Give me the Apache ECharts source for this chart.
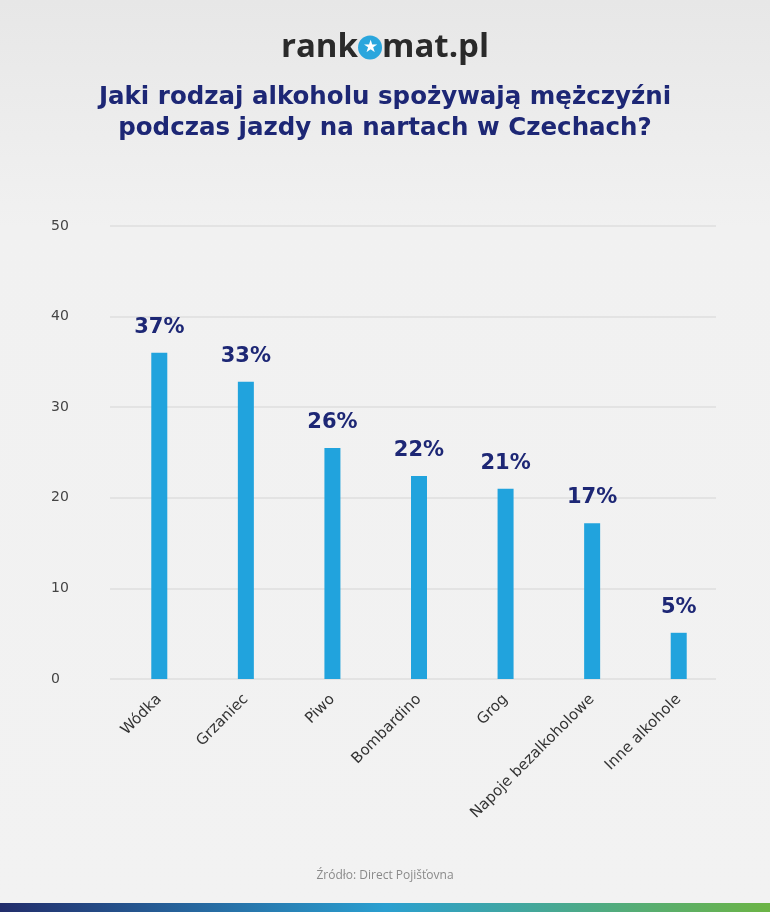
<!DOCTYPE html>
<html><head><meta charset="utf-8">
<script src="https://cdn.jsdelivr.net/npm/echarts@6/dist/echarts.min.js"></script>
<style>html,body{margin:0;padding:0;width:770px;height:912px;overflow:hidden}#c{width:770px;height:912px}</style>
</head><body><div id="c"></div>
<script>
const categories = ['Wódka', 'Grzaniec', 'Piwo', 'Bombardino', 'Grog', 'Napoje bezalkoholowe', 'Inne alkohole'];
const values = [36, 32.8, 25.5, 22.4, 21, 17.2, 5.1];
const valueLabels = ['37%', '33%', '26%', '22%', '21%', '17%', '5%'];
const yMin = 0, yMax = 50, yStep = 10;
const titleLines = ['Jaki rodzaj alkoholu spożywają mężczyźni', 'podczas jazdy na nartach w Czechach?'];
const sourceText = 'Źródło: Direct Pojišťovna';

const FONT = '"DejaVu Sans", sans-serif';
const chart = echarts.init(document.getElementById('c'), null, {renderer: 'canvas'});
chart.setOption({
  backgroundColor: {type: 'linear', x: 0, y: 0, x2: 0, y2: 1, colorStops: [
    {offset: 0, color: '#e7e7e7'}, {offset: 0.25, color: '#f1f1f1'}, {offset: 1, color: '#f2f2f2'}]},
  animation: false,
  grid: [
    {left: 110, right: 54, top: 226, bottom: 233},
    {left: 116, right: 48, top: 226, bottom: 233}
  ],
  xAxis: [
    {type: 'category', gridIndex: 0, data: categories, show: false},
    {type: 'category', gridIndex: 1, data: categories,
     axisLine: {show: false}, axisTick: {show: false},
     axisLabel: {rotate: 45, margin: 18, color: '#333', fontSize: 15, fontFamily: FONT, interval: 0}}
  ],
  yAxis: [
    {type: 'value', gridIndex: 0, min: yMin, max: yMax, interval: yStep,
     axisLine: {show: false}, axisTick: {show: false},
     axisLabel: {align: 'left', margin: 59, color: '#444', fontSize: 14, fontFamily: FONT},
     splitLine: {lineStyle: {color: '#dedede', width: 1.5}}},
    {type: 'value', gridIndex: 1, min: yMin, max: yMax, interval: yStep, show: false, splitLine: {show: false}}
  ],
  series: [{
    type: 'bar', xAxisIndex: 1, yAxisIndex: 1, data: values, barWidth: 16,
    itemStyle: {color: '#21a3dd'},
    label: {show: true, position: 'top', distance: 15, formatter: p => valueLabels[p.dataIndex],
      color: '#1d2775', fontSize: 21, fontWeight: 'bold', fontFamily: FONT}
  }],
  graphic: [
    {type: 'text', left: 'center', top: 31, style: {
      text: '{a|rank}{s|★}{a|mat.pl}',
      rich: {
        a: {fontSize: 33, fontWeight: 'bold', fontFamily: '"Open Sans", sans-serif', fill: '#2a2a2a'},
        s: {fontSize: 17, fill: '#fff', backgroundColor: '#2aa6dd', width: 24, height: 24, borderRadius: 12, align: 'center', verticalAlign: 'middle', lineHeight: 24}
      }}},
    {type: 'text', left: 'center', top: 85, style: {
      text: titleLines[0], fill: '#1d2775', fontSize: 24.5, fontWeight: 'bold', fontFamily: FONT}},
    {type: 'text', left: 'center', top: 116, style: {
      text: titleLines[1], fill: '#1d2775', fontSize: 24.5, fontWeight: 'bold', fontFamily: FONT}},
    {type: 'text', left: 'center', top: 870, style: {
      text: sourceText, fill: '#8a8a8a', fontSize: 12, fontFamily: '"Open Sans", sans-serif'}},
    {type: 'rect', shape: {x: 0, y: 903, width: 770, height: 9}, style: {
      fill: {type: 'linear', x: 0, y: 0, x2: 1, y2: 0, colorStops: [
        {offset: 0, color: '#222d6b'}, {offset: 0.5, color: '#2a9fd0'}, {offset: 1, color: '#6cb445'}]}}}
  ]
});
</script></body></html>
